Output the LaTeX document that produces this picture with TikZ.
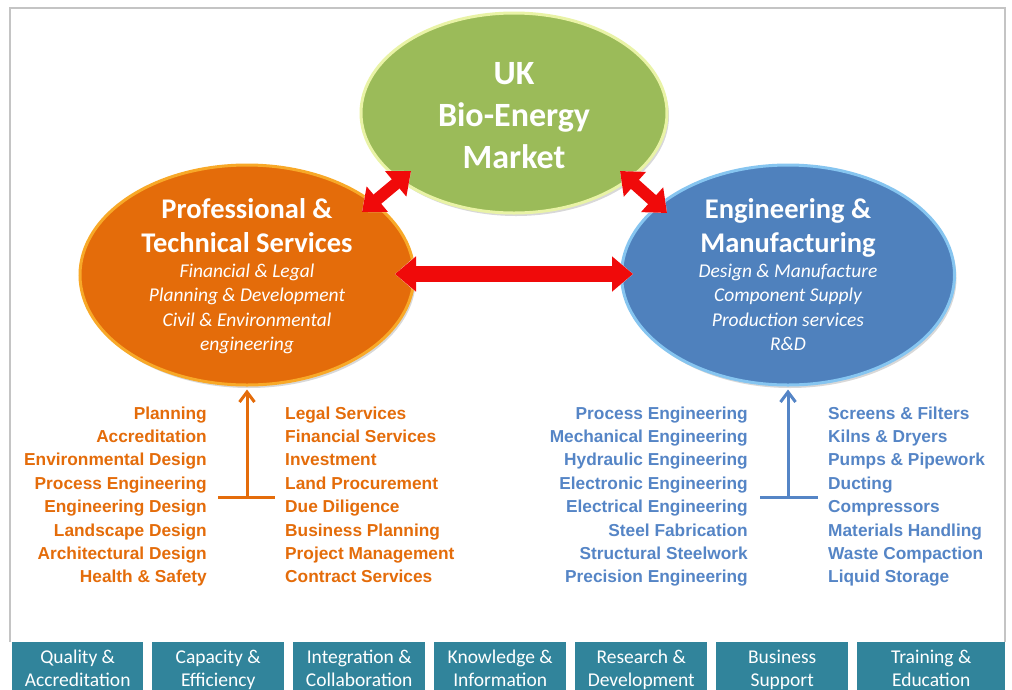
\documentclass[tikz,border=0pt]{standalone}
\usepackage{fontspec}
\setmainfont{Carlito}
\newfontfamily\listfont{Liberation Sans}
\usetikzlibrary{shapes.geometric,arrows.meta,shadows,calc}
\definecolor{framec}{HTML}{C4C4C4}
\definecolor{greenf}{HTML}{9BBB59}
\definecolor{greenb}{HTML}{E9F3A6}
\definecolor{orangef}{HTML}{E46C0A}
\definecolor{orangeb}{HTML}{F8A928}
\definecolor{bluef}{HTML}{4F81BD}
\definecolor{blueb}{HTML}{86C5F0}
\definecolor{listblue}{HTML}{5585C6}
\definecolor{teal}{HTML}{31849B}
\definecolor{arrowred}{HTML}{F00A0A}
\begin{document}
\begin{tikzpicture}[x=1pt,y=-1pt,
  bubble/.style={ellipse, inner sep=0pt, line width=3pt,
    drop shadow={shadow xshift=2pt, shadow yshift=-3pt, opacity=0.25, fill=black!60}},
  title/.style={text=white, font=\fontsize{28.5}{34}\selectfont\bfseries, anchor=base, inner sep=0pt},
  bigtitle/.style={text=white, font=\fontsize{34}{42}\selectfont\bfseries, anchor=base, inner sep=0pt},
  sub/.style={text=white, font=\fontsize{19.5}{24}\selectfont\itshape, anchor=base, inner sep=0pt},
  redarrowbg/.style={draw=white, line width=19pt,
    {Triangle[length=24pt,width=40pt]}-{Triangle[length=24pt,width=40pt]}},
  redarrow/.style={draw=arrowred, line width=16pt,
    {Triangle[length=21pt,width=34pt]}-{Triangle[length=21pt,width=34pt]}},
  diagarrowbg/.style={draw=white, line width=15pt,
    {Triangle[length=22pt,width=36pt]}-{Triangle[length=22pt,width=36pt]}},
  diagarrow/.style={draw=arrowred, line width=12pt,
    {Triangle[length=20pt,width=32pt]}-{Triangle[length=20pt,width=32pt]}},
  listo/.style={text=orangef, font=\listfont\fontsize{17.3}{20}\selectfont\bfseries, inner sep=0pt},
  listb/.style={text=listblue, font=\listfont\fontsize{17.3}{20}\selectfont\bfseries, inner sep=0pt},
  tbar/.style={line width=3pt},
  tarrow/.style={tbar, -{Straight Barb[length=10pt,width=15pt,line width=3pt]}, shorten >=3pt},
  boxst/.style={fill=teal, inner sep=0pt, anchor=north west},
  boxtxt/.style={text=white, font=\fontsize{19.5}{23}\selectfont, anchor=base, inner sep=0pt}
]
\useasboundingbox (0,0) rectangle (1012,689);
\clip (0,0) rectangle (1012,689);
\fill[white] (0,0) rectangle (1012,689);
\draw[framec, line width=1.5pt] (10,642) -- (10,8) -- (1005,8) -- (1005,642);

% bubbles
\node[bubble, fill=greenf, draw=greenb, minimum width=306pt, minimum height=200pt] (market) at (514,113) {};
\node[bubble, fill=orangef, draw=orangeb, minimum width=334pt, minimum height=220pt] (pts) at (247,275) {};
\node[bubble, fill=bluef, draw=blueb, minimum width=333pt, minimum height=220pt] (eng) at (788,275) {};

% titles
\node[bigtitle] (m1) at (514,84) {UK};
\node[bigtitle] (m2) at (514,126) {Bio-Energy};
\node[bigtitle] (m3) at (514,168) {Market};

\node[title] (p1) at (247,218) {Professional \&};
\node[title] (p2) at (247,252) {Technical Services};
\node[sub] (ps1) at (247,277) {Financial \& Legal};
\node[sub] (ps2) at (247,301.5) {Planning \& Development};
\node[sub] (ps3) at (247,326) {Civil \& Environmental};
\node[sub] (ps4) at (247,350.5) {engineering};

\node[title] (e1) at (788,218) {Engineering \&};
\node[title] (e2) at (788,252) {Manufacturing};
\node[sub] (es1) at (788,277) {Design \& Manufacture};
\node[sub] (es2) at (788,301.5) {Component Supply};
\node[sub] (es3) at (788,326) {Production services};
\node[sub] (es4) at (788,350.5) {R\&D};

% red arrows
\coordinate (hl) at (395,274);
\coordinate (hr) at (633,274);
\coordinate (dl1) at (362,212);
\coordinate (dl2) at (411,171);
\coordinate (dr1) at (620,171);
\coordinate (dr2) at (667,213);
\draw[redarrowbg] (hl) -- (hr);
\draw[redarrow] (hl) -- (hr);
\draw[diagarrowbg] (dl1) -- (dl2);
\draw[diagarrow] (dl1) -- (dl2);
\draw[diagarrowbg] (dr1) -- (dr2);
\draw[diagarrow] (dr1) -- (dr2);

% lists (orange)
\foreach \t [count=\i] in {Planning, Accreditation, Environmental Design, Process Engineering, Engineering Design, Landscape Design, Architectural Design, Health \& Safety}
  \node[listo, anchor=base east] (ol\i) at (207,{419+23.4*(\i-1)}) {\t};
\foreach \t [count=\i] in {Legal Services, Financial Services, Investment, Land Procurement, Due Diligence, Business Planning, Project Management, Contract Services}
  \node[listo, anchor=base west] (or\i) at (285,{419+23.4*(\i-1)}) {\t};
% lists (blue)
\foreach \t [count=\i] in {Process Engineering, Mechanical Engineering, Hydraulic Engineering, Electronic Engineering, Electrical Engineering, Steel Fabrication, Structural Steelwork, Precision Engineering}
  \node[listb, anchor=base east] (bl\i) at (748,{419+23.4*(\i-1)}) {\t};
\foreach \t [count=\i] in {Screens \& Filters, Kilns \& Dryers, Pumps \& Pipework, Ducting, Compressors, Materials Handling, Waste Compaction, Liquid Storage}
  \node[listb, anchor=base west] (br\i) at (828,{419+23.4*(\i-1)}) {\t};

% T connectors
\coordinate (ot) at (247,497);
\coordinate (otl) at (218,497);
\coordinate (otr) at (275,497);
\draw[tbar, orangef] (otl) -- (otr);
\draw[tarrow, orangef] (ot) -- (pts.south -| ot);
\coordinate (bt) at (788,497);
\coordinate (btl) at (760,497);
\coordinate (btr) at (818,497);
\draw[tbar, listblue] (btl) -- (btr);
\draw[tarrow, listblue] (bt) -- (eng.south -| bt);

% bottom boxes
\foreach \x/\w/\a/\b [count=\i] in {12/131/Quality \&/Accreditation, 152/132/Capacity \&/Efficiency, 293/132/Integration \&/Collaboration, 434/132/Knowledge \&/Information, 575/132/Research \&/Development, 716/132/Business/Support, 857/148/Training \&/Education}{
  \node[boxst, minimum width=\w pt, minimum height=60pt] (box\i) at (\x,642) {};
  \node[boxtxt] (bta\i) at ($(box\i.north)+(0,21)$) {\a};
  \node[boxtxt] (btb\i) at ($(box\i.north)+(0,44)$) {\b};
}
\end{tikzpicture}
\end{document}
